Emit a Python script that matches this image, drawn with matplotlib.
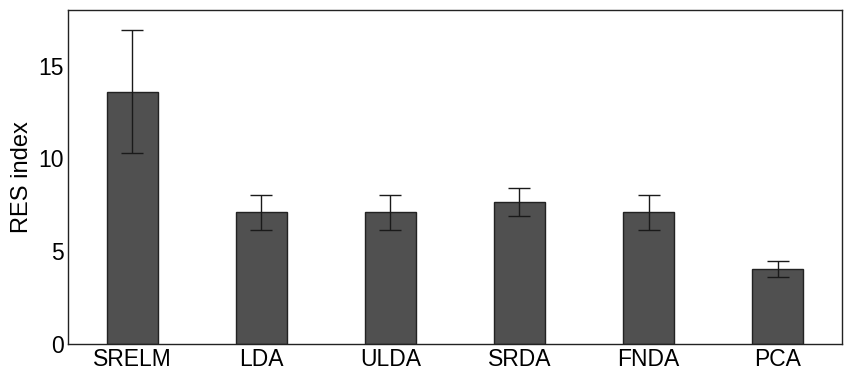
import matplotlib
matplotlib.use("Agg")
import matplotlib.pyplot as plt
import numpy as np

methods = ["SRELM", "LDA", "ULDA", "SRDA", "FNDA", "PCA"]
res_mean = [13.6, 7.1, 7.1, 7.65, 7.1, 4.05]
res_err = [3.3, 0.95, 0.95, 0.78, 0.95, 0.42]

plt.rcParams["font.family"] = ["Liberation Sans", "DejaVu Sans"]

fig = plt.figure(figsize=(8.48, 3.71), dpi=100)
ax = fig.add_axes([0.080, 0.073, 0.913, 0.900])

x = np.arange(1, len(methods) + 1)
ax.bar(x, res_mean, width=0.39, color="#505050", edgecolor="#222222",
       linewidth=1.0, zorder=2)
ax.errorbar(x, res_mean, yerr=res_err, fmt="none", ecolor="#1a1a1a",
            elinewidth=1.0, capsize=8, capthick=1.0, zorder=3)

ax.set_xlim(0.5, len(methods) + 0.5)
ax.set_ylim(0, 18)
ax.set_yticks([0, 5, 10, 15])
ax.set_xticks(x)
ax.set_xticklabels(methods)
ax.tick_params(length=0, labelsize=16.5, pad=3)
ax.set_ylabel("RES index", fontsize=17, labelpad=4)
for s in ax.spines.values():
    s.set_linewidth(1.0)
    s.set_color("#222222")

fig.savefig("out.png", dpi=100)
